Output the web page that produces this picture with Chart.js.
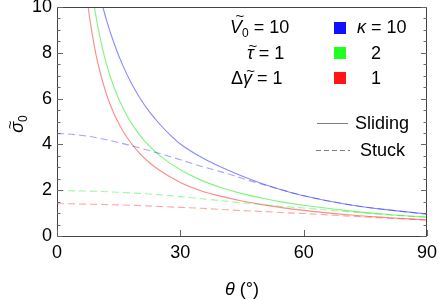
<!DOCTYPE html>
<html><head><meta charset="utf-8">
<script src="https://cdn.jsdelivr.net/npm/chart.js@4.4.1/dist/chart.umd.min.js"></script>
<style>html,body{margin:0;padding:0;background:#fff;}</style>
</head><body>
<canvas id="c" width="438" height="300" style="width:438px;height:300px;display:block"></canvas>
<script>
// ---- data ----
const xTickValues = [0, 30, 60, 90];
const yTickValues = [0, 2, 4, 6, 8, 10];
const kappaLabels = ['10', '2', '1'];

const thetaBlueSliding = [11, 12, 14, 16, 18, 20, 22.5, 25, 27.5, 30, 35, 40, 45, 50, 55, 60, 70, 80, 90];
const blueSliding      = [10.1, 9.45, 8.35, 7.45, 6.7, 6.07, 5.42, 4.88, 4.42, 4.02, 3.45, 3.0, 2.62, 2.28, 2.0, 1.76, 1.4, 1.15, 0.96];

const thetaGreenSliding = [9, 10, 12, 14, 16, 18, 20, 22.5, 25, 30, 35, 40, 45, 50, 55, 60, 70, 80, 90];
const greenSliding      = [10.1, 9.08, 7.53, 6.43, 5.6, 4.95, 4.44, 3.92, 3.51, 2.89, 2.44, 2.11, 1.85, 1.65, 1.48, 1.34, 1.12, 0.95, 0.82];

const thetaRedSliding = [7.5, 8, 9, 10, 12, 14, 16, 18, 20, 22.5, 25, 30, 35, 40, 45, 50, 55, 60, 70, 80, 90];
const redSliding      = [10.1, 9.45, 8.38, 7.5, 6.2, 5.28, 4.6, 4.06, 3.63, 3.2, 2.86, 2.34, 1.98, 1.73, 1.53, 1.37, 1.23, 1.12, 0.94, 0.81, 0.7];

const thetaStuck = [0, 5, 10, 15, 20, 25, 30, 35, 40, 45, 50, 55, 60, 70, 80, 90];
const blueStuck  = [4.48, 4.42, 4.28, 4.08, 3.85, 3.6, 3.33, 3.05, 2.8, 2.52, 2.25, 2.0, 1.76, 1.4, 1.15, 0.96];
const greenStuck = [1.98, 1.97, 1.95, 1.91, 1.86, 1.8, 1.72, 1.63, 1.54, 1.45, 1.37, 1.29, 1.22, 1.07, 0.93, 0.82];
const redStuck   = [1.41, 1.40, 1.38, 1.36, 1.33, 1.29, 1.25, 1.21, 1.16, 1.11, 1.07, 1.02, 0.98, 0.88, 0.78, 0.70];

// ---- helpers ----
const FONT = "'Liberation Sans', Arial, Helvetica, sans-serif";
function pts(xs, ys) { return xs.map((x, i) => ({ x: x, y: ys[i] })); }
function solid(xs, ys, color) {
  return { data: pts(xs, ys), borderColor: color, borderWidth: 1.1, pointRadius: 0, fill: false, cubicInterpolationMode: 'monotone' };
}
function dashed(xs, ys, color) {
  return { data: pts(xs, ys), borderColor: color, borderWidth: 1.1, borderDash: [7, 4], pointRadius: 0, fill: false, cubicInterpolationMode: 'monotone' };
}

const C_BLUE = 'rgba(40,40,255,0.55)', C_GREEN = 'rgba(0,235,0,0.5)', C_RED = 'rgba(255,20,20,0.5)';
const C_BLUE_D = 'rgba(40,40,255,0.42)', C_GREEN_D = 'rgba(0,235,0,0.38)', C_RED_D = 'rgba(255,20,20,0.38)';

// rich text: parts = [{t, it, sz, dy, tilde}]
function setFont(ctx, p) { ctx.font = (p.it ? 'italic ' : '') + (p.sz || 18) + 'px ' + FONT; }
function richWidth(ctx, parts) {
  let w = 0;
  parts.forEach(p => { setFont(ctx, p); w += ctx.measureText(p.t).width; });
  return w;
}
function drawRich(ctx, parts, x, y, align) {
  let w = richWidth(ctx, parts);
  let cx = align === 'center' ? x - w / 2 : (align === 'right' ? x - w : x);
  ctx.textBaseline = 'alphabetic';
  ctx.textAlign = 'left';
  parts.forEach(p => {
    setFont(ctx, p);
    const pw = ctx.measureText(p.t).width;
    ctx.fillText(p.t, cx, y + (p.dy || 0));
    if (p.tilde) {
      ctx.save();
      ctx.font = '15px ' + FONT;
      ctx.textAlign = 'center';
      const tw = cx + pw / 2 + (p.tildeDx || 1.5);
      ctx.fillText('~', tw, y + (p.dy || 0) - p.tilde);
      ctx.restore();
    }
    cx += pw;
  });
}

const decorPlugin = {
  id: 'decor',
  afterDraw(chart) {
    const ctx = chart.ctx;
    const a = chart.chartArea;
    const xs = chart.scales.x, ys = chart.scales.y;
    ctx.save();
    // frame
    ctx.strokeStyle = '#444';
    ctx.lineWidth = 1;
    ctx.strokeRect(Math.round(a.left) + 0.5, Math.round(a.top) + 0.5, Math.round(a.right - a.left) - 1, Math.round(a.bottom - a.top));
    // ticks
    ctx.strokeStyle = '#666';
    ctx.beginPath();
    for (let v = 0; v <= 10.001; v += 0.5) {
      const py = Math.round(ys.getPixelForValue(v)) + 0.5;
      const len = (Math.abs(v / 2 - Math.round(v / 2)) < 1e-6) ? 6 : 3.5;
      ctx.moveTo(a.left, py); ctx.lineTo(a.left + len, py);
      ctx.moveTo(a.right, py); ctx.lineTo(a.right - len, py);
    }
    xTickValues.forEach(v => {
      const px = Math.round(xs.getPixelForValue(v)) + 0.5;
      ctx.moveTo(px, a.bottom); ctx.lineTo(px, a.bottom - 6);
    });
    ctx.stroke();

    ctx.fillStyle = '#000';
    // parameter labels
    drawRich(ctx, [{ t: 'V', it: true, tilde: 12, tildeDx: 4 }, { t: '0', sz: 12, dy: 4 }, { t: ' = 10' }], 230, 33, 'left');
    drawRich(ctx, [{ t: 'τ', it: true, tilde: 8, tildeDx: 2.5 }, { t: ' = 1' }], 247, 59, 'left');
    drawRich(ctx, [{ t: 'Δ' }, { t: 'γ', it: true, tilde: 8, tildeDx: 3 }, { t: ' = 1' }], 231, 84, 'left');

    // kappa legend
    const sq = [['#1010ff', 22], ['#20ff20', 47], ['#ff1515', 72]];
    sq.forEach(s => { ctx.fillStyle = s[0]; ctx.fillRect(334, s[1], 12, 12); });
    ctx.fillStyle = '#000';
    drawRich(ctx, [{ t: 'κ', it: true }, { t: ' = ' + kappaLabels[0] }], 357, 33, 'left');
    drawRich(ctx, [{ t: kappaLabels[1] }], 376, 59, 'center');
    drawRich(ctx, [{ t: kappaLabels[2] }], 376, 84, 'center');

    // line-style legend
    ctx.strokeStyle = '#808080';
    ctx.lineWidth = 1;
    ctx.beginPath(); ctx.moveTo(317, 123.5); ctx.lineTo(348, 123.5); ctx.stroke();
    ctx.setLineDash([5, 3]);
    ctx.beginPath(); ctx.moveTo(316, 150.5); ctx.lineTo(350, 150.5); ctx.stroke();
    ctx.setLineDash([]);
    drawRich(ctx, [{ t: 'Sliding' }], 355, 129, 'left');
    drawRich(ctx, [{ t: 'Stuck' }], 360, 156, 'left');

    // axis titles
    drawRich(ctx, [{ t: 'θ', it: true }, { t: ' (°)' }], (a.left + a.right) / 2, 295, 'center');
    ctx.save();
    ctx.translate(23, 124);
    ctx.rotate(-Math.PI / 2);
    drawRich(ctx, [{ t: 'σ', it: true, tilde: 8, tildeDx: 2.5 }, { t: '0', sz: 12, dy: 4 }], 0, 0, 'center');
    ctx.restore();
    ctx.restore();
  }
};

new Chart(document.getElementById('c'), {
  type: 'line',
  data: {
    datasets: [
      dashed(thetaStuck, redStuck, C_RED_D),
      dashed(thetaStuck, greenStuck, C_GREEN_D),
      dashed(thetaStuck, blueStuck, C_BLUE_D),
      solid(thetaRedSliding, redSliding, C_RED),
      solid(thetaGreenSliding, greenSliding, C_GREEN),
      solid(thetaBlueSliding, blueSliding, C_BLUE)
    ]
  },
  options: {
    responsive: false,
    animation: false,
    devicePixelRatio: 1,
    layout: { padding: { top: 7, right: 11, left: 0, bottom: 0 } },
    plugins: { legend: { display: false }, tooltip: { enabled: false } },
    scales: {
      x: {
        type: 'linear', min: 0, max: 90,
        afterBuildTicks(s) { s.ticks = xTickValues.map(v => ({ value: v })); },
        ticks: { color: '#000', font: { size: 18, family: FONT }, padding: 6, maxRotation: 0 },
        grid: { display: false, drawTicks: false },
        border: { display: false },
        afterFit(s) { s.height = 64; s.paddingLeft = 0; s.paddingRight = 0; }
      },
      y: {
        type: 'linear', min: 0, max: 10,
        afterBuildTicks(s) { s.ticks = yTickValues.map(v => ({ value: v })); },
        ticks: { color: '#000', font: { size: 18, family: FONT }, padding: 5 },
        grid: { display: false, drawTicks: false },
        border: { display: false },
        afterFit(s) { s.width = 57; s.paddingTop = 0; s.paddingBottom = 0; }
      }
    }
  },
  plugins: [decorPlugin]
});
</script>
</body></html>
